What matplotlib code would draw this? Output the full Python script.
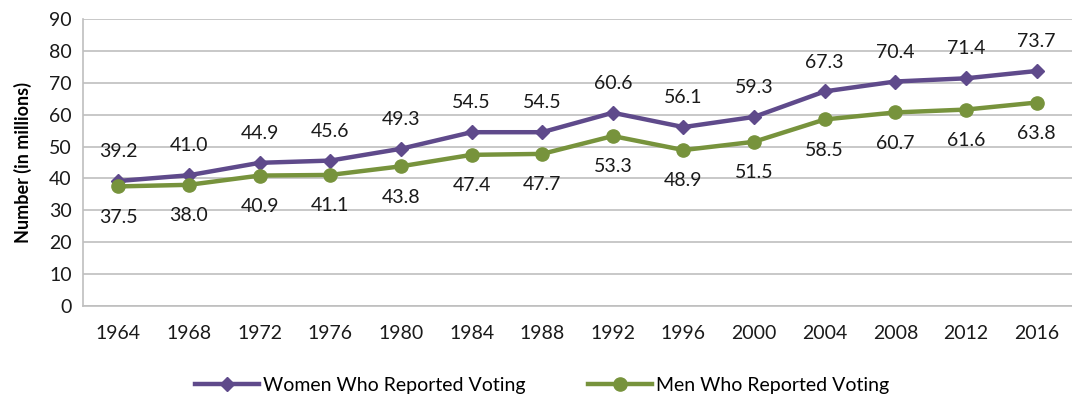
import numpy as np
import matplotlib.pyplot as plt

years = ['1964', '1968', '1972', '1976', '1980', '1984', '1988', '1992',
         '1996', '2000', '2004', '2008', '2012', '2016']
women = [39.2, 41.0, 44.9, 45.6, 49.3, 54.5, 54.5, 60.6, 56.1, 59.3, 67.3, 70.4, 71.4, 73.7]
men = [37.5, 38.0, 40.9, 41.1, 43.8, 47.4, 47.7, 53.3, 48.9, 51.5, 58.5, 60.7, 61.6, 63.8]

plt.rcParams['font.family'] = ['Lato', 'DejaVu Sans']

purple = '#5f4a8b'
green = '#77933c'

fig = plt.figure(figsize=(10.72, 4.0), dpi=100)
ax = fig.add_axes([83 / 1072, 94 / 400, (1072 - 83) / 1072, 287 / 400])

x = np.arange(len(years))
ax.plot(x, women, color=purple, lw=3.2, marker='D', ms=7, label='Women Who Reported Voting')
ax.plot(x, men, color=green, lw=3.2, marker='o', ms=9.5, label='Men Who Reported Voting')

for i in range(len(x)):
    ax.annotate(f'{women[i]:.1f}', (x[i], women[i]), xytext=(0, 15), textcoords='offset points',
                ha='center', va='bottom', fontsize=14, color='#1a1a1a')
    ax.annotate(f'{men[i]:.1f}', (x[i], men[i]), xytext=(0, -16), textcoords='offset points',
                ha='center', va='top', fontsize=14, color='#1a1a1a')

ax.set_xlim(-0.5, len(years) - 0.5)
ax.set_ylim(0, 90)
ax.set_yticks(range(0, 91, 10))
ax.set_xticks(x)
ax.set_xticklabels(years)
ax.tick_params(axis='both', length=0, labelsize=14, colors='#1a1a1a')
ax.tick_params(axis='x', pad=14)
ax.tick_params(axis='y', pad=8)
ax.grid(axis='y', color='#bfbfbf', lw=1.2)
ax.set_axisbelow(True)
for s in ['top', 'right']:
    ax.spines[s].set_visible(False)
ax.spines['left'].set_color('#bfbfbf')
ax.spines['bottom'].set_color('#bfbfbf')
ax.spines['left'].set_linewidth(1.2)
ax.spines['bottom'].set_linewidth(1.2)
ax.set_ylabel('Number (in millions)', fontsize=13, fontweight='bold', labelpad=12)

fig.legend(loc='center', bbox_to_anchor=(542 / 1072, 1 - 385 / 400), ncol=2, frameon=False,
           fontsize=14, columnspacing=3.2, handlelength=3.3, handletextpad=0.2)

fig.savefig('out.png', dpi=100)
